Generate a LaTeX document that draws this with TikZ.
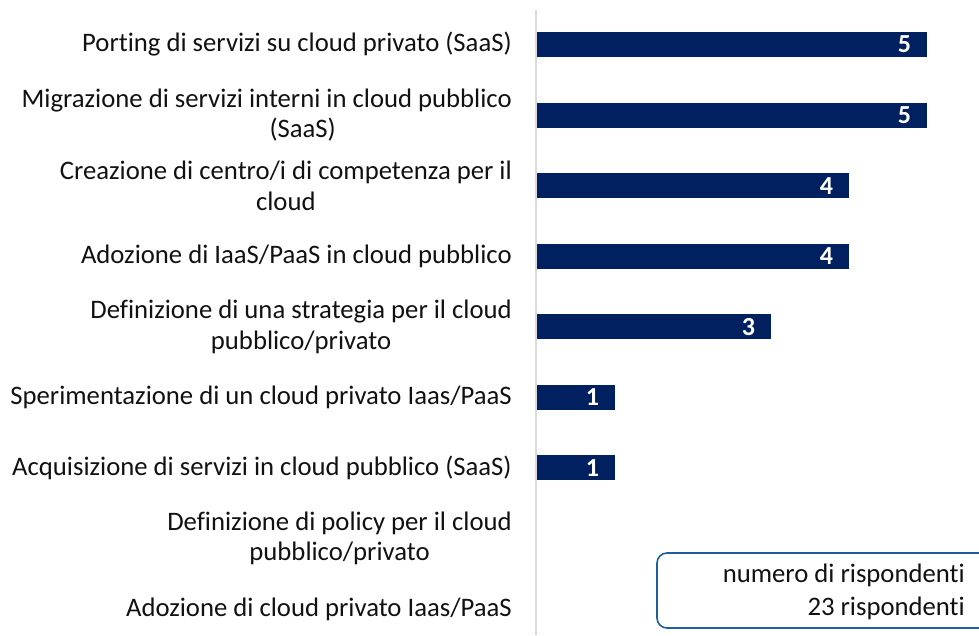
\documentclass[tikz,border=0pt]{standalone}
\usepackage{fontspec}
\setmainfont{Carlito}[Ligatures=NoCommon]
\definecolor{barnavy}{HTML}{002060}
\definecolor{axisgrey}{HTML}{D9D9D9}
\definecolor{boxblue}{RGB}{30,95,155}
\definecolor{labeltext}{HTML}{111111}

\begin{document}
\begin{tikzpicture}[x=1pt, y=-1pt,
  catlabel/.style={anchor=east, align=center, text=labeltext,
    font=\fontsize{26.7}{30.5}\selectfont, inner sep=0pt},
  bar/.style={fill=barnavy, draw=none, anchor=west, inner sep=0pt,
    minimum height=25pt},
  vallabel/.style={font=\fontsize{26}{28}\selectfont\bfseries,
    text=white, inner sep=0pt},
  legendbox/.style={draw=boxblue, line width=1.6pt, rounded corners=10pt,
    minimum width=338pt, minimum height=75pt, inner sep=0pt},
  legendtext/.style={anchor=east, align=right, text=labeltext,
    font=\fontsize{26.7}{33}\selectfont, inner sep=0pt}]

  \useasboundingbox (0,0) rectangle (979,635);
  \clip (0,0) rectangle (979,635);

  % value axis
  \coordinate (axtop) at (536,10);
  \coordinate (axbot) at (536,635);
  \draw[axisgrey, line width=1.5pt] (axtop) -- (axbot);

  % one unit of the scale = 78pt; category pitch = 70.56pt
  \foreach \i/\v/\txt in {
      0/5/{Porting di servizi su cloud privato (SaaS)},
      1/5/{Migrazione di servizi interni in cloud pubblico\\\hspace*{72pt}(SaaS)},
      2/4/{Creazione di centro/i di competenza per il\\cloud},
      3/4/{Adozione di IaaS/PaaS in cloud pubblico},
      4/3/{Definizione di una strategia per il cloud\\pubblico/privato},
      5/1/{Sperimentazione di un cloud privato Iaas/PaaS},
      6/1/{Acquisizione di servizi in cloud pubblico (SaaS)},
      7/0/{Definizione di policy per il cloud\\pubblico/privato},
      8/0/{Adozione di cloud privato Iaas/PaaS}} {
    \pgfmathsetmacro{\cy}{44.5+70.56*\i}
    \node[catlabel] (cat\i) at (512,\cy) {\txt};
    \ifnum\v>0
      \node[bar, minimum width=78*\v pt] (bar\i) at (537,\cy) {};
      \node[vallabel] (val\i) at ([xshift=-23pt]bar\i.east) {\v};
    \fi
  }

  % respondents box
  \node[legendbox] (legend) at (826,590.5) {};
  \node[legendtext] (legendtxt) at (965,592) {numero di rispondenti\\23 rispondenti};
\end{tikzpicture}
\end{document}
